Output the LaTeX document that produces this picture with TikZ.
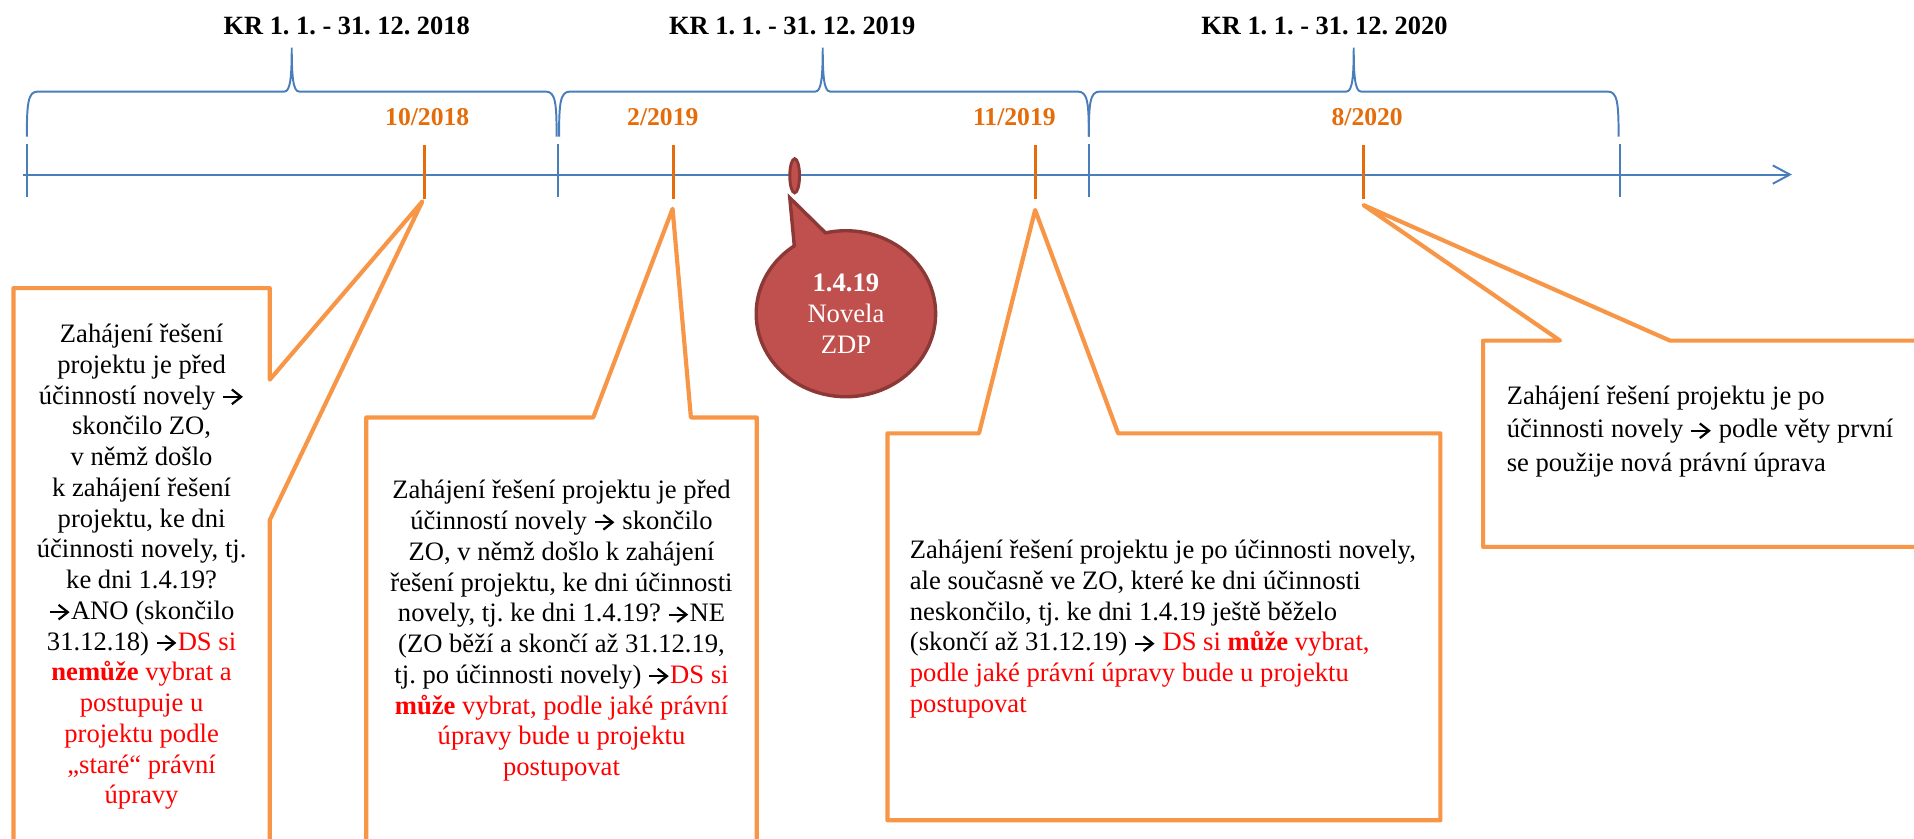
\documentclass[tikz,border=0pt]{standalone}
\usepackage{fontspec}
\setmainfont{Liberation Serif}
\frenchspacing
\usetikzlibrary{shapes.callouts,shapes.geometric,arrows.meta}

\definecolor{axisblue}{HTML}{4A7EBB}
\definecolor{tickorange}{HTML}{E46C0A}
\definecolor{boxorange}{HTML}{F79646}
\definecolor{bubblered}{HTML}{C0504D}
\definecolor{bubbledark}{HTML}{8C3836}
\definecolor{textred}{HTML}{FF0000}

\begin{document}
\begin{tikzpicture}[x=0.5pt,y=-0.5pt]
    \tikzstyle{axisline}=[axisblue, line width=0.8pt]
    \tikzstyle{orangetick}=[tickorange, line width=1.3pt]
    \tikzstyle{yearlabel}=[anchor=base, font=\bfseries\fontsize{10.8}{13}\selectfont]
    \tikzstyle{datelabel}=[anchor=base, text=tickorange, font=\bfseries\fontsize{10.5}{13}\selectfont]
    \tikzstyle{notebox}=[draw=boxorange, fill=white, line width=1.7pt, line join=round]
    \tikzstyle{boxtext}=[inner sep=0pt, font=\fontsize{10.9}{12.6}\selectfont]
    \newcommand{\arr}{\tikz[baseline=-0.27em]{\path (0,0) -- (9pt,0);
        \draw[black, line width=0.9pt, -{Straight Barb[length=3.8pt,width=6pt]}] (0.5pt,0) -- (8.5pt,0);}}
    \newcommand{\redtext}[1]{\textcolor{textred}{#1}}

    \useasboundingbox (0,0) rectangle (1568,687);
    \clip (0,0) rectangle (1568,687);

    % time axis
    \coordinate (a0) at (19,143);
    \coordinate (a1) at (1468,143);
    \draw[axisline, -{Straight Barb[length=7pt,width=7.5pt]}] (a0) -- (a1);
    \foreach \x in {22,457,892,1327}
        \draw[axisline] (\x,118) -- (\x,161);

    % braces over the calendar years
    \foreach \l/\m/\r in {22/239/456, 458/674/892, 892/1109/1326}
        \draw[axisline] (\l,112) .. controls (\l,84) and (\l+1,75) .. (\l+9,75)
            -- (\m-6,75) .. controls (\m-1,75) and (\m,62) .. (\m,39)
            .. controls (\m,62) and (\m+1,75) .. (\m+6,75)
            -- (\r-9,75) .. controls (\r-1,75) and (\r,84) .. (\r,112);
    \node[yearlabel] (kr18) at (284,28) {KR 1. 1. - 31. 12. 2018};
    \node[yearlabel] (kr19) at (649,28) {KR 1. 1. - 31. 12. 2019};
    \node[yearlabel] (kr20) at (1085,28) {KR 1. 1. - 31. 12. 2020};

    % dates
    \foreach \x in {348,552,848,1117}
        \draw[orangetick] (\x,119) -- (\x,163);
    \node[datelabel] (d1) at (350,103) {10/2018};
    \node[datelabel] (d2) at (543,103) {2/2019};
    \node[datelabel] (d3) at (831,103) {11/2019};
    \node[datelabel] (d4) at (1120,103) {8/2020};

    % callouts
    \coordinate (p1) at (346,165);
    \coordinate (p2) at (551,171);
    \coordinate (p3) at (848,172);
    \coordinate (p4) at (1117,168);
    \draw[notebox] (11,236) -- (221,236) -- (221,311) -- (p1) -- (221,426)
        -- (221,700) -- (11,700) -- cycle;
    \draw[notebox] (300,342) -- (486,342) -- (p2) -- (566,342) -- (620,342)
        -- (620,700) -- (300,700) -- cycle;
    \draw[notebox] (727,355) -- (802,355) -- (p3) -- (916,355) -- (1180,355)
        -- (1180,672) -- (727,672) -- cycle;
    \draw[notebox] (1215,279) -- (1278,279) -- (p4) -- (1368,279) -- (1580,279)
        -- (1580,448) -- (1215,448) -- cycle;

    \node[boxtext, align=center, anchor=north] (b1) at (116,265) {Zahájení řešení\\
        projektu je před\\účinností novely \arr\\skončilo ZO,\\v němž došlo\\
        k zahájení řešení\\projektu, ke dni\\účinnosti novely, tj.\\ke dni 1.4.19?\\
        \arr ANO (skončilo\\31.12.18) \arr\redtext{DS si}\\
        \redtext{\textbf{nemůže} vybrat a}\\\redtext{postupuje u}\\
        \redtext{projektu podle}\\\redtext{„staré“ právní}\\\redtext{úpravy}};
    \node[boxtext, align=center, anchor=north] (b2) at (460,393) {Zahájení řešení projektu je před\\
        účinností novely \arr{} skončilo\\ZO, v němž došlo k zahájení\\
        řešení projektu, ke dni účinnosti\\novely, tj. ke dni 1.4.19? \arr NE\\
        (ZO běží a skončí až 31.12.19,\\tj. po účinnosti novely) \arr\redtext{DS si}\\
        \redtext{\textbf{může} vybrat, podle jaké právní}\\
        \redtext{úpravy bude u projektu}\\\redtext{postupovat}};
    \node[boxtext, align=left, anchor=north west] (b3) at (745,442) {Zahájení řešení projektu je po účinnosti novely,\\
        ale současně ve ZO, které ke dni účinnosti\\
        neskončilo, tj. ke dni 1.4.19 ještě běželo\\
        (skončí až 31.12.19) \arr{} \redtext{DS si \textbf{může} vybrat,}\\
        \redtext{podle jaké právní úpravy bude u projektu}\\\redtext{postupovat}};
    \node[boxtext, align=left, anchor=north west, font=\fontsize{10.9}{13.6}\selectfont]
        (b4) at (1234,316) {Zahájení řešení projektu je po\\
        účinnosti novely \arr{} podle věty první\\se použije nová právní úprava};

    % amendment
    \coordinate (zt) at (647,162);
    \node[ellipse, draw=bubbledark, fill=bubblered, line width=1.2pt, inner sep=0pt,
        minimum width=4pt, minimum height=14pt] (zm) at (651,144) {};
    \node[ellipse callout, draw=bubbledark, fill=bubblered, line width=1.4pt, inner sep=0pt,
        minimum width=73.5pt, minimum height=68pt, callout absolute pointer={(zt)},
        callout pointer arc=22, text=white, align=center,
        font=\fontsize{10.9}{12.6}\selectfont] (zdp) at (693,257) {\textbf{1.4.19}\\Novela\\ZDP};
\end{tikzpicture}
\end{document}
